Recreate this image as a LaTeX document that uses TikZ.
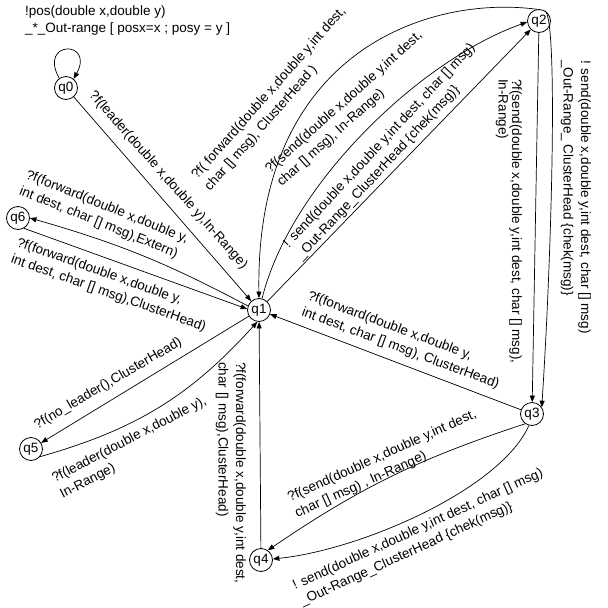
\documentclass[tikz,border=0pt]{standalone}
\usepackage{fontspec}
\setmainfont{Liberation Sans}
\usetikzlibrary{arrows.meta}
\begin{document}
\begin{tikzpicture}[x=1pt,y=-1pt,
  state/.style={circle,draw,line width=0.8pt,minimum size=23pt,inner sep=0pt,
    font=\fontsize{13.5}{16}\selectfont},
  trans/.style={line width=0.7pt,-{Triangle[length=6.5pt,width=5pt]}},
  lbl/.style={inner sep=0pt,align=left,anchor=north west,
    font=\fontsize{13.5}{17.5}\selectfont}]
\useasboundingbox (0,0) rectangle (608,608);

% states
\node[state] (q0) at (66,88)   {q0};
\node[state] (q1) at (259,310) {q1};
\node[state] (q2) at (539,21)  {q2};
\node[state] (q3) at (532,414) {q3};
\node[state] (q4) at (261,560) {q4};
\node[state] (q5) at (31,449)  {q5};
\node[state] (q6) at (18,218)  {q6};

% transitions
\draw[trans] (q0.125) .. controls (38,40) and (95,40) .. (q0.50);
\draw[trans] (q0) -- (q1);
\draw[trans] (q2.100) .. controls (430,-5) and (255,50) .. (q1.north);
\draw[trans] (q1.75) .. controls (290,185) and (420,60) .. (q2.185);
\draw[trans] (q1) -- (q2);
\draw[trans] (q2) -- (q3);
\draw[trans] (q2.60) .. controls (558,18) and (552,250) .. (q3.35);
\draw[trans] (q3) -- (q1);
\draw[trans] (q3.235) to[bend right=8] (q4.55);
\draw[trans] (q3.255) .. controls (500,490) and (360,550) .. (q4.5);
\draw[trans] (q4) -- (q1);
\draw[trans] (q1) -- (q5);
\draw[trans] (q5.-40) to[bend right=16] (q1.262);
\draw[trans] (q6.-60) -- (q1.175);
\draw[trans] (q1.160) to[bend right=6] (q6.east);

% transition labels
\node[lbl] (tloop) at (25,5.5) {!pos(double x,double y)\\\_*\_Out-range [ posx=x ; posy = y ]};
\node[lbl,rotate=-48.5] (t01) at (96,89) {?f(leader(double x,double y),In-Range)};
\node[lbl,rotate=48.5] (t21) at (189.5,173.4) {?f( forward(double x,double y,int dest,\\char [] msg), ClusterHead )};
\node[lbl,rotate=42] (t12a) at (263.3,166.6) {?f(send(double x,double y,int dest,\\char [] msg), In-Range)};
\node[lbl,rotate=47] (t12b) at (281.5,241.5) {! send(double x,double y,int dest, char [] msg)\\\_Out-Range\_ClusterHead \{chek(msg)\}};
\node[lbl,rotate=-90] (t23a) at (522,79) {?f(send(double x,double y,int dest, char [] msg),\\[-4pt]In-Range)};
\node[lbl,rotate=-90] (t23b) at (591,60) {! send(double x,double y,int dest, char [] msg)\\\_Out-Range\_ ClusterHead \{chek(msg)\}};
\node[lbl,rotate=-90] (t41) at (246,362) {?f(forward(double x,double y,int dest,\\char [] msg),ClusterHead)};
\node[lbl,rotate=-20.4] (t31) at (310.5,289.6) {?f(forward(double x,double y,\\int dest, char [] msg), ClusterHead)};
\node[lbl,rotate=24.4] (t34a) at (285.9,492.9) {?f(send(double x,double y,int dest,\\char [] msg) , In-Range)};
\node[lbl,rotate=24.6] (t34b) at (290.8,580.9) {! send(double x,double y,int dest, char [] msg)\\\_Out-Range\_ClusterHead \{chek(msg)\}};
\node[lbl,rotate=30.2] (t15) at (32.2,420.5) {?f(no\_leader(),ClusterHead)};
\node[lbl,rotate=27.4] (t51) at (50,474) {?f(leader(double x,double y),\\In-Range)};
\node[lbl,rotate=-22] (t16) at (28.7,168.7) {?f(forward(double x,double y,\\int dest, char [] msg),Extern)};
\node[lbl,rotate=-19.5] (t61) at (19.3,236.6) {?f(forward(double x,double y,\\int dest, char [] msg),ClusterHead)};
\end{tikzpicture}
\end{document}
